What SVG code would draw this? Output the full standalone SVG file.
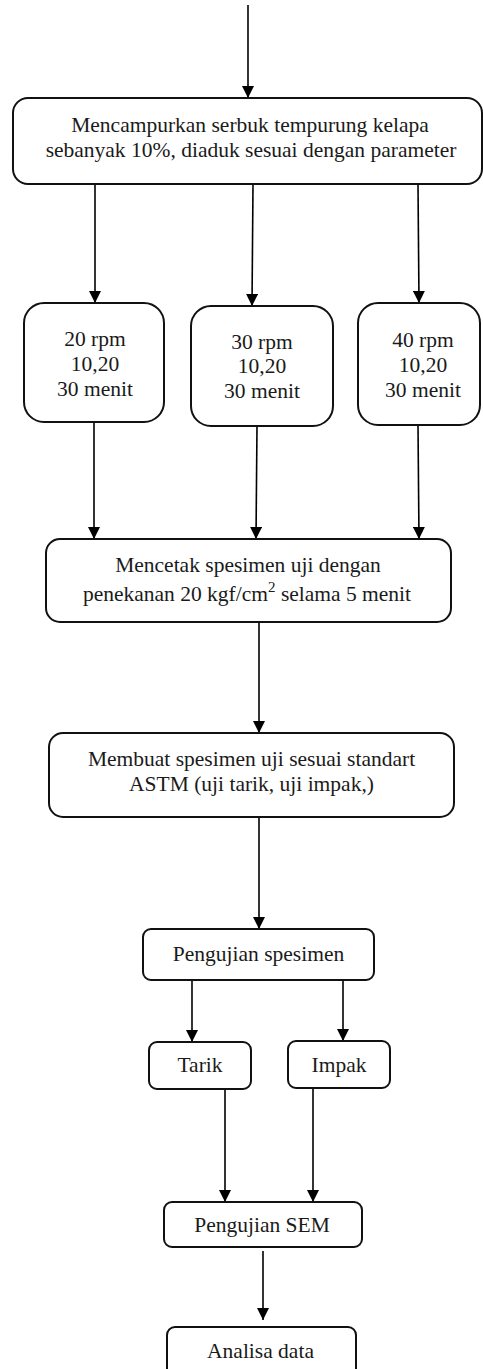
<svg xmlns="http://www.w3.org/2000/svg" width="483" height="1369" viewBox="0 0 483 1369">
<style>
.box{fill:#fff;stroke:#111;stroke-width:2}
.t{font-family:'Liberation Serif','Tinos','Times New Roman','DejaVu Serif',serif;font-size:21.5px;fill:#1a1a1a;text-anchor:middle}
.c{stroke:#000;stroke-width:1.6;fill:none;marker-end:url(#ah)}
</style>
<defs>
<marker id="ah" viewBox="0 0 12 12" refX="12" refY="6" markerWidth="12" markerHeight="12" markerUnits="userSpaceOnUse" orient="auto">
<path d="M0,0 L12,6 L0,12 z" fill="#000"/>
</marker>
</defs>
<rect width="483" height="1369" fill="#fff"/>
<g id="connectors">
<line class="c" x1="248" y1="5" x2="248" y2="98"/>
<line class="c" x1="95" y1="184" x2="95" y2="303"/>
<line class="c" x1="253" y1="184" x2="252" y2="306"/>
<line class="c" x1="418" y1="184" x2="419" y2="303"/>
<line class="c" x1="94" y1="422" x2="94" y2="539"/>
<line class="c" x1="257" y1="426" x2="256" y2="539"/>
<line class="c" x1="418" y1="425" x2="419" y2="539"/>
<line class="c" x1="259" y1="622" x2="259" y2="733"/>
<line class="c" x1="259" y1="817" x2="259" y2="929"/>
<line class="c" x1="192" y1="980" x2="192" y2="1042"/>
<line class="c" x1="343" y1="980" x2="343" y2="1041"/>
<line class="c" x1="225" y1="1089" x2="225" y2="1202"/>
<line class="c" x1="313" y1="1088" x2="313" y2="1202"/>
<line class="c" x1="263" y1="1251" x2="263" y2="1320"/>
</g>
<g id="n1">
<rect class="box" x="13" y="98" width="469" height="86" rx="15"/>
<text class="t" x="250" y="132">Mencampurkan serbuk tempurung kelapa</text>
<text class="t" x="251" y="157">sebanyak 10%, diaduk sesuai dengan parameter</text>
</g>
<g id="n2">
<rect class="box" x="24" y="303" width="140" height="119" rx="20"/>
<text class="t" x="95" y="346">20 rpm</text>
<text class="t" x="95" y="371">10,20</text>
<text class="t" x="95" y="396">30 menit</text>
</g>
<g id="n3">
<rect class="box" x="191" y="306" width="142" height="120" rx="20"/>
<text class="t" x="262" y="349">30 rpm</text>
<text class="t" x="262" y="373">10,20</text>
<text class="t" x="262" y="398">30 menit</text>
</g>
<g id="n4">
<rect class="box" x="358" y="303" width="122" height="122" rx="20"/>
<text class="t" x="423" y="347">40 rpm</text>
<text class="t" x="423" y="372">10,20</text>
<text class="t" x="423" y="397">30 menit</text>
</g>
<g id="n5">
<rect class="box" x="46" y="539" width="405" height="83" rx="14"/>
<text class="t" x="248" y="572">Mencetak spesimen uji dengan</text>
<text class="t" x="247" y="601">penekanan 20 kgf/cm<tspan font-size="15" dy="-9">2</tspan><tspan dy="9"> selama 5 menit</tspan></text>
</g>
<g id="n6">
<rect class="box" x="49" y="733" width="405" height="84" rx="14"/>
<text class="t" x="251.5" y="766">Membuat spesimen uji sesuai standart</text>
<text class="t" x="251.5" y="791">ASTM (uji tarik, uji impak,)</text>
</g>
<g id="n7">
<rect class="box" x="143" y="929" width="231" height="51" rx="8"/>
<text class="t" x="258.5" y="961">Pengujian spesimen</text>
</g>
<g id="n8">
<rect class="box" x="149" y="1042" width="102" height="47" rx="8"/>
<text class="t" x="200" y="1072">Tarik</text>
</g>
<g id="n9">
<rect class="box" x="288" y="1041" width="102" height="47" rx="8"/>
<text class="t" x="339" y="1072">Impak</text>
</g>
<g id="n10">
<rect class="box" x="164" y="1202" width="198" height="45" rx="8"/>
<text class="t" x="262" y="1232">Pengujian SEM</text>
</g>
<g id="n11">
<rect class="box" x="167" y="1327" width="189" height="55" rx="8"/>
<text class="t" x="260.5" y="1358">Analisa data</text>
</g>
</svg>
